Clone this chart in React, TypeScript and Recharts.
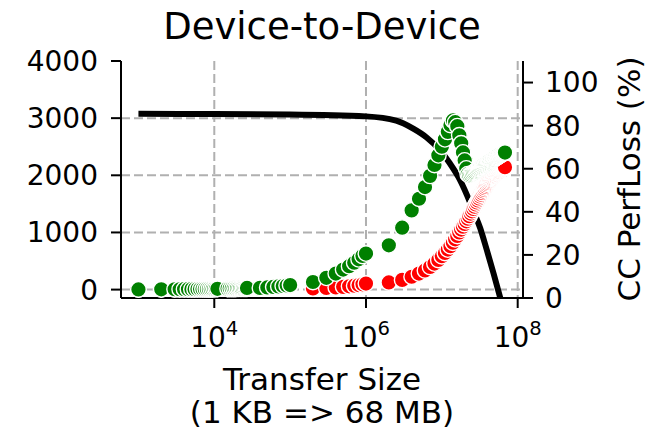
import React from 'react';
import { ComposedChart, Scatter, Line, XAxis, YAxis, CartesianGrid } from 'recharts';

// Transfer sizes below 1 MB (in KB, decimal)
const smallSizesKB = [1, 2, 3, 3.5, 4, 4.5, 5, 5.5, 6, 6.5, 7, 7.5, 8, 8.5, 9, 9.5, 10, 10.5, 11,
  15, 16, 17, 18, 19, 20, 21, 22, 23, 24, 25, 26, 27,
  40, 50, 60, 70, 80, 90, 100,
  200, 300, 400, 500, 600, 700, 800, 900];
const greenSmall = [3, 5, 6, 6, 7, 7, 8, 8, 9, 9, 10, 10, 11, 11, 12, 12, 13, 13, 14,
  17, 18, 19, 20, 21, 22, 23, 24, 25, 26, 27, 28, 29,
  30, 38, 46, 55, 63, 72, 80,
  133, 206, 280, 350, 410, 470, 530, 590];
const redSmall = [2, 3, 4, 4, 5, 5, 5, 6, 6, 6, 7, 7, 7, 8, 8, 8, 9, 9, 9,
  10, 11, 11, 12, 12, 13, 13, 14, 14, 15, 15, 16, 16,
  25, 32, 40, 47, 55, 62, 70,
  20, 28, 38, 48, 58, 68, 80, 92];

// Transfer sizes from 1 MB to 68 MB (in MB, decimal)
const largeSizesMB = [1, 2, 3, 4, 5, 6, 7, 8, 9, 10, 11, 12, 13, 14, 15, 16, 17, 18, 19, 20,
  21, 22, 23, 24, 25, 26, 27, 28, 29, 30, 31, 32, 33, 34, 35, 36, 37, 38, 39, 40,
  41, 42, 43, 44, 45, 46, 47, 48, 49, 50, 51, 52, 53, 54, 55, 56, 57, 58, 59, 60,
  61, 62, 63, 64, 65, 66, 67, 68];
const greenLarge = [630, 775, 1084, 1386, 1590, 1794, 1990, 2180, 2350, 2500, 2630, 2760, 2880, 2960, 2930, 2860, 2700, 2560, 2400, 2260,
  2120, 2020, 2000, 2015, 2031, 2046, 2060, 2074, 2087, 2100, 2112, 2123, 2136, 2147, 2158, 2169, 2179, 2189, 2199, 2208,
  2217, 2227, 2236, 2244, 2253, 2261, 2269, 2277, 2285, 2292, 2300, 2307, 2315, 2322, 2328, 2336, 2343, 2348, 2355, 2361,
  2367, 2372, 2377, 2382, 2386, 2390, 2394, 2398];
const redLarge = [105, 125, 170, 225, 280, 335, 395, 455, 520, 585, 640, 700, 760, 820, 880, 940, 1000, 1050, 1100, 1150,
  1195, 1240, 1285, 1330, 1370, 1410, 1450, 1490, 1525, 1560, 1595, 1630, 1660, 1690, 1720, 1748, 1775, 1800, 1825, 1850,
  1870, 1890, 1908, 1925, 1940, 1955, 1970, 1985, 1998, 2010, 2020, 2030, 2040, 2050, 2058, 2066, 2074, 2082, 2090, 2097,
  2104, 2110, 2116, 2122, 2128, 2133, 2138, 2143];

// CC PerfLoss curve (right axis, %)
const lossSizes = [1e3, 1e4, 1e5, 1e6, 2.5e6, 4.2e6, 6.3e6, 9.5e6, 1.28e7, 1.65e7, 2.13e7, 2.6e7, 3.2e7, 3.9e7, 4.8e7, 5.9e7];
const lossValues = [85.5, 85.4, 85.2, 84.3, 82.3, 78.6, 74.5, 68.5, 62.4, 56.2, 48.0, 40.5, 32.5, 22.5, 11.5, 0];

const xTicks = [1e4, 1e6, 1e8];
const leftTicks = [0, 1000, 2000, 3000, 4000];
const rightTicks = [0, 20, 40, 60, 80, 100];
const gridY = [0, 1000, 2000, 3000];

const FONT = 'DejaVu Sans';
const TICK = 28;
const LABEL = 31;
const TITLE = 37;

const sizesBytes = [...smallSizesKB.map((k) => k * 1000), ...largeSizesMB.map((m) => m * 1e6)];
const greenVals = [...greenSmall, ...greenLarge];
const redVals = [...redSmall, ...redLarge];
const greenData = sizesBytes.map((x, i) => ({ x, y: greenVals[i] }));
const redData = sizesBytes.map((x, i) => ({ x, y: redVals[i] }));
const lossData = lossSizes.map((x, i) => ({ x, v: lossValues[i] }));

const dot = (color: string) => (p: any) => (
  <circle cx={p.cx} cy={p.cy} r={7.8} fill={color} stroke="#ffffff" strokeWidth={1.4} />
);

const XTick = (props: any) => {
  const { x, y, payload } = props;
  const e = Math.round(Math.log10(payload.value));
  return (
    <text x={x} y={y + 39} textAnchor="middle" fontFamily={FONT} fontSize={TICK} fill="#000">
      <tspan>10</tspan>
      <tspan dy={-12} fontSize={TICK * 0.7}>{e}</tspan>
    </text>
  );
};

const axisLine = { stroke: '#000', strokeWidth: 2 };
const tickLine = { stroke: '#000', strokeWidth: 2 };

export default function App() {
  return (
    <div style={{ position: 'absolute', left: 0, top: 0, width: 646, height: 430, background: '#fff' }}>
      <ComposedChart width={646} height={430} margin={{ top: 61, right: 0, bottom: 0, left: 0 }}>
        <CartesianGrid
          yAxisId="left"
          horizontalValues={gridY}
          verticalValues={xTicks}
          stroke="#b0b0b0"
          strokeWidth={2}
          strokeDasharray="9 4"
        />
        <XAxis
          dataKey="x"
          type="number"
          scale="log"
          domain={[589, 1.175e8]}
          allowDataOverflow
          ticks={xTicks}
          tick={<XTick />}
          tickSize={10}
          tickMargin={0}
          height={132}
          axisLine={axisLine}
          tickLine={tickLine}
          interval={0}
        />
        <YAxis
          yAxisId="left"
          dataKey="y"
          type="number"
          domain={[-147, 4000]}
          allowDataOverflow
          ticks={leftTicks}
          width={121}
          tickSize={10}
          tickMargin={13}
          axisLine={axisLine}
          tickLine={tickLine}
          tick={{ fontFamily: FONT, fontSize: TICK, fill: '#000' }}
          interval={0}
        />
        <YAxis
          yAxisId="right"
          orientation="right"
          type="number"
          domain={[0, 110]}
          allowDataOverflow
          ticks={rightTicks}
          width={123}
          tickSize={10}
          tickMargin={12}
          axisLine={axisLine}
          tickLine={tickLine}
          tick={{ fontFamily: FONT, fontSize: TICK, fill: '#000' }}
          interval={0}
        />
        <Scatter yAxisId="left" data={redData} fill="#ff0000" shape={dot('#ff0000')} isAnimationActive={false} />
        <Scatter yAxisId="left" data={greenData} fill="#008000" shape={dot('#008000')} isAnimationActive={false} />
        <Line
          yAxisId="right"
          data={lossData}
          dataKey="v"
          type="monotone"
          stroke="#000"
          strokeWidth={6}
          dot={false}
          activeDot={false}
          isAnimationActive={false}
        />
      </ComposedChart>
      <svg width={646} height={430} style={{ position: 'absolute', left: 0, top: 0, pointerEvents: 'none' }}>
        <text x={322} y={39} textAnchor="middle" fontFamily={FONT} fontSize={TITLE} fill="#000">Device-to-Device</text>
        <text x={322} y={390} textAnchor="middle" fontFamily={FONT} fontSize={LABEL} fill="#000">Transfer Size</text>
        <text x={322} y={423} textAnchor="middle" fontFamily={FONT} fontSize={LABEL} fill="#000">(1 KB =&gt; 68 MB)</text>
        <text
          x={0}
          y={0}
          transform="translate(640,179) rotate(-90)"
          textAnchor="middle"
          fontFamily={FONT}
          fontSize={LABEL}
          fill="#000"
        >
          CC PerfLoss (%)
        </text>
      </svg>
    </div>
  );
}
